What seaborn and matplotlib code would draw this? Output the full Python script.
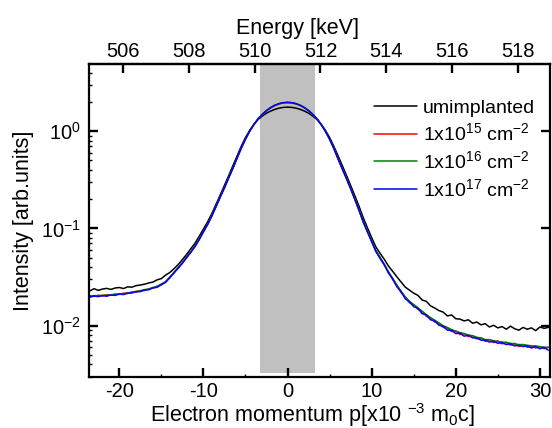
import numpy as np
import pandas as pd
import matplotlib
matplotlib.use("Agg")
import matplotlib.pyplot as plt
import seaborn as sns
from matplotlib.ticker import FixedLocator, MultipleLocator, LogLocator, NullFormatter

# ---------------- data ----------------
momentum = np.arange(-23.5, 31.01, 0.5)   # p channels [x10^-3 m0c]

unimplanted = [
    0.0228, 0.0240, 0.0231, 0.0238, 0.0242, 0.0236, 0.0244, 0.0247, 0.0241, 0.0251,
    0.0249, 0.0258, 0.0262, 0.0267, 0.0275, 0.0281, 0.0296, 0.0305, 0.0331, 0.0352,
    0.0385, 0.0425, 0.0478, 0.0541, 0.0618, 0.0705, 0.0830, 0.0985, 0.117, 0.142,
    0.177, 0.221, 0.277, 0.348, 0.440, 0.555, 0.700, 0.860, 1.02, 1.175,
    1.315, 1.43, 1.53, 1.61, 1.675, 1.725, 1.755, 1.765, 1.755, 1.725,
    1.675, 1.61, 1.53, 1.43, 1.315, 1.175, 1.02, 0.86, 0.70, 0.56,
    0.445, 0.352, 0.277, 0.217, 0.169, 0.129, 0.1015, 0.0805, 0.0645, 0.0555,
    0.0482, 0.0410, 0.0362, 0.0318, 0.0281, 0.0249, 0.0232, 0.0216, 0.0205, 0.0184,
    0.0178, 0.0160, 0.0152, 0.0143, 0.0138, 0.0126, 0.0129, 0.0118, 0.0117, 0.0112,
    0.0115, 0.0106, 0.0109, 0.0102, 0.0105, 0.0097, 0.0101, 0.0095, 0.0098, 0.0092,
    0.0099, 0.0093, 0.0090, 0.0096, 0.0092, 0.0095, 0.0089, 0.0097, 0.0094, 0.0096,
]

dose_1e15 = [
    0.0203, 0.0200, 0.0206, 0.0202, 0.0208, 0.0206, 0.0212, 0.0210, 0.0216, 0.0214,
    0.0222, 0.0221, 0.0230, 0.0230, 0.0240, 0.0243, 0.0255, 0.0262, 0.0285, 0.0308,
    0.0355, 0.0388, 0.0446, 0.0497, 0.0578, 0.0648, 0.0780, 0.0918, 0.111, 0.135,
    0.167, 0.211, 0.261, 0.331, 0.413, 0.528, 0.668, 0.825, 0.995, 1.165,
    1.335, 1.48, 1.62, 1.74, 1.835, 1.905, 1.95, 1.96, 1.95, 1.905,
    1.835, 1.74, 1.62, 1.48, 1.335, 1.165, 0.995, 0.825, 0.668, 0.522,
    0.412, 0.328, 0.257, 0.200, 0.154, 0.117, 0.093, 0.0735, 0.0585, 0.0502,
    0.0419, 0.0356, 0.0298, 0.0260, 0.0219, 0.0197, 0.0172, 0.0164, 0.0147, 0.0140,
    0.0125, 0.0120, 0.0109, 0.0106, 0.0096, 0.0095, 0.0087, 0.0088, 0.0081, 0.0083,
    0.0077, 0.0079, 0.0073, 0.0075, 0.0069, 0.0072, 0.0067, 0.0070, 0.0065, 0.0068,
    0.0063, 0.0066, 0.0061, 0.0064, 0.0060, 0.0062, 0.0059, 0.0061, 0.0058, 0.0060,
]

dose_1e16 = [
    0.0201, 0.0204, 0.0202, 0.0206, 0.0205, 0.0208, 0.0209, 0.0213, 0.0213, 0.0218,
    0.0220, 0.0226, 0.0228, 0.0235, 0.0238, 0.0247, 0.0253, 0.0268, 0.0283, 0.0316,
    0.0352, 0.0396, 0.0443, 0.0508, 0.0574, 0.0660, 0.0776, 0.0930, 0.1105, 0.1355,
    0.169, 0.212, 0.263, 0.332, 0.416, 0.530, 0.669, 0.828, 1.00, 1.17,
    1.34, 1.485, 1.625, 1.745, 1.84, 1.91, 1.955, 1.97, 1.955, 1.91,
    1.84, 1.745, 1.625, 1.485, 1.34, 1.17, 1.00, 0.828, 0.669, 0.524,
    0.413, 0.329, 0.258, 0.201, 0.155, 0.118, 0.0935, 0.0745, 0.0595, 0.0505,
    0.0430, 0.0358, 0.0307, 0.0262, 0.0226, 0.0198, 0.0178, 0.0165, 0.0153, 0.0141,
    0.0130, 0.0121, 0.0114, 0.0107, 0.0100, 0.0096, 0.0091, 0.0088, 0.0085, 0.0083,
    0.0080, 0.0079, 0.0076, 0.0075, 0.0072, 0.0072, 0.0070, 0.0069, 0.0068, 0.0067,
    0.0066, 0.0065, 0.0064, 0.0064, 0.0063, 0.0062, 0.0062, 0.0061, 0.0060, 0.0060,
]

dose_1e17 = [
    0.0197, 0.0202, 0.0199, 0.0204, 0.0201, 0.0207, 0.0205, 0.0211, 0.0209, 0.0216,
    0.0217, 0.0224, 0.0224, 0.0233, 0.0234, 0.0245, 0.0248, 0.0265, 0.0278, 0.0313,
    0.0347, 0.0393, 0.0437, 0.0503, 0.0566, 0.0655, 0.0765, 0.0925, 0.1095, 0.134,
    0.168, 0.210, 0.262, 0.330, 0.415, 0.530, 0.670, 0.830, 1.00, 1.17,
    1.34, 1.49, 1.63, 1.75, 1.85, 1.92, 1.965, 1.98, 1.965, 1.92,
    1.85, 1.75, 1.63, 1.49, 1.34, 1.17, 1.00, 0.83, 0.665, 0.52,
    0.41, 0.326, 0.256, 0.199, 0.153, 0.116, 0.092, 0.073, 0.058, 0.0490,
    0.0424, 0.0347, 0.0303, 0.0251, 0.0224, 0.0189, 0.0176, 0.0157, 0.0151, 0.0133,
    0.0129, 0.0115, 0.0112, 0.0101, 0.0099, 0.0090, 0.0090, 0.0083, 0.0084, 0.0078,
    0.0080, 0.0075, 0.0075, 0.0071, 0.0071, 0.0068, 0.0069, 0.0066, 0.0067, 0.0064,
    0.0065, 0.0062, 0.0063, 0.0061, 0.0062, 0.0059, 0.0061, 0.0058, 0.0060, 0.0056,
]

series_labels = ["umimplanted",
                 "1x10$^{15}$ cm$^{-2}$",
                 "1x10$^{16}$ cm$^{-2}$",
                 "1x10$^{17}$ cm$^{-2}$"]
series_colors = ["#000000", "#ff0000", "#008000", "#0000ff"]
series_values = [unimplanted, dose_1e15, dose_1e16, dose_1e17]

energy_ticks = [506, 508, 510, 512, 514, 516, 518]
band_limits = (-3.3, 3.3)

# ---------------- style ----------------
sns.set_style("ticks")
plt.rcParams["font.family"] = ["Liberation Sans", "DejaVu Sans"]
plt.rcParams["mathtext.fontset"] = "custom"
plt.rcParams["mathtext.rm"] = "Liberation Sans"
plt.rcParams["mathtext.it"] = "Liberation Sans:italic"
plt.rcParams["mathtext.bf"] = "Liberation Sans:bold"
plt.rcParams["axes.unicode_minus"] = False
for key in ["text.color", "axes.labelcolor", "xtick.color", "ytick.color",
            "axes.edgecolor", "xtick.labelcolor", "ytick.labelcolor"]:
    plt.rcParams[key] = "black"

TICK_FS = 14.5
LABEL_FS = 15.5
LEG_FS = 14

fig = plt.figure(figsize=(5.52, 4.28), dpi=100)
ax = fig.add_axes([89/552, 1 - 377/428, (550 - 89)/552, (377 - 64)/428])

# grey window
ax.fill_between(list(band_limits), 0.0033, 10, color="#c0c0c0", lw=0, zorder=0)

frames = []
for lab, vals in zip(series_labels, series_values):
    frames.append(pd.DataFrame({"p": momentum, "I": vals, "sample": lab}))
df = pd.concat(frames, ignore_index=True)

palette = dict(zip(series_labels, series_colors))
sns.lineplot(data=df, x="p", y="I", hue="sample", palette=palette,
             hue_order=series_labels, lw=1.1, ax=ax, legend=True,
             estimator=None, sort=False)

ax.set_yscale("log")
ax.set_xlim(-23.6, 31.2)
ax.set_ylim(0.00297, 4.9)

for s in ax.spines.values():
    s.set_linewidth(1.6)
    s.set_color("black")
    s.set_visible(True)

ax.xaxis.set_major_locator(MultipleLocator(10))
ax.xaxis.set_minor_locator(MultipleLocator(5))
ax.yaxis.set_major_locator(LogLocator(base=10, numticks=10))
ax.yaxis.set_minor_locator(LogLocator(base=10, subs=np.arange(2, 10), numticks=20))
ax.yaxis.set_minor_formatter(NullFormatter())

ax.tick_params(axis="both", which="major", direction="in", length=6.5, width=1.7,
               labelsize=TICK_FS, pad=6, color="black", labelcolor="black")
ax.tick_params(axis="x", which="major", pad=3.5)
ax.tick_params(axis="both", which="minor", direction="in", length=2.5, width=1.0,
               color="black")
ax.tick_params(axis="x", which="both", top=False, bottom=True)
ax.tick_params(axis="y", which="major", left=True, right=True)
ax.tick_params(axis="y", which="minor", left=True, right=False)

ax.set_xlabel("Electron momentum p[x10 $^{-3}$ m$_0$c]", fontsize=LABEL_FS,
              labelpad=0, color="black")
ax.xaxis.label.set_x(0.486)
ax.set_ylabel("Intensity [arb.units]", fontsize=LABEL_FS, labelpad=5, color="black")

# top energy axis
sec = ax.secondary_xaxis("top", functions=(lambda p: 511 + 0.2555 * p,
                                           lambda e: (e - 511) / 0.2555))
sec.xaxis.set_major_locator(FixedLocator(energy_ticks))
sec.tick_params(direction="in", length=6.5, width=1.7, labelsize=TICK_FS, pad=2,
                color="black", labelcolor="black")
sec.spines["top"].set_linewidth(1.6)
sec.spines["top"].set_color("black")
sec.set_xlabel("Energy [keV]", fontsize=LABEL_FS, labelpad=6, color="black")
sec.xaxis.label.set_x(0.453)

leg = ax.legend(loc="upper left", bbox_to_anchor=(374/552, 1 - 99/428),
                bbox_transform=fig.transFigure, frameon=False, fontsize=LEG_FS,
                handlelength=2.2, handletextpad=0.3, labelspacing=0.3,
                borderaxespad=0, borderpad=0)
for text in leg.get_texts():
    text.set_color("black")
for line in leg.get_lines():
    line.set_linewidth(1.1)

fig.savefig("out.png", dpi=100)
